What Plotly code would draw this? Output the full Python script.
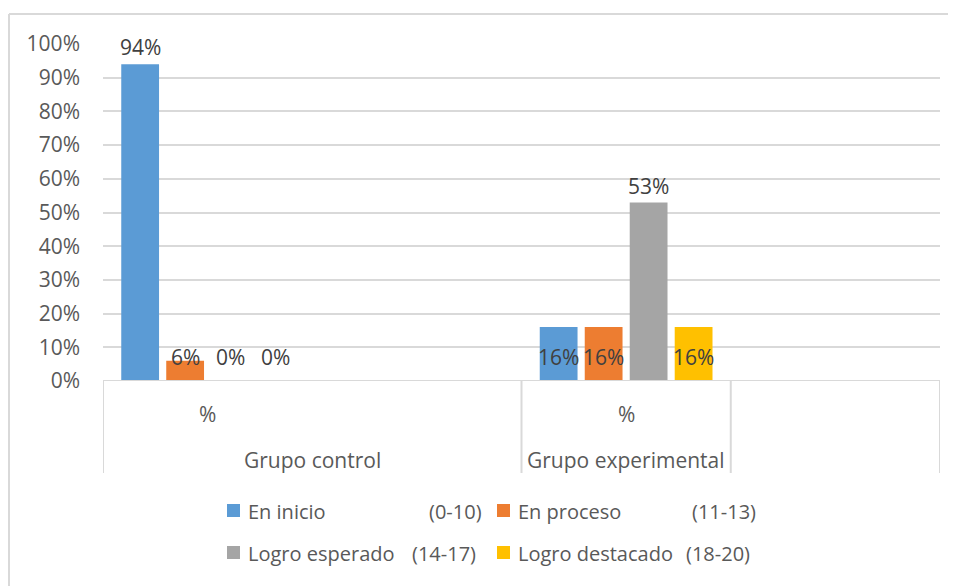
import plotly.graph_objects as go

# ---- data ----
inner_labels = ["%", "", "%", ""]
outer_groups = ["Grupo control", "Grupo experimental"]
outer_spans = [(0, 1), (2, 2)]          # category index range per outer group
level_names = ["En inicio", "En proceso", "Logro esperado", "Logro destacado"]
level_ranges = ["(0-10)", "(11-13)", "(14-17)", "(18-20)"]
en_inicio = [94, None, 16, None]
en_proceso = [6, None, 16, None]
logro_esperado = [0, None, 53, None]
logro_destacado = [0, None, 16, None]
series = [en_inicio, en_proceso, logro_esperado, logro_destacado]
y_ticks = list(range(0, 101, 10))
y_tick_text = [f"{v}%" for v in y_ticks]

# ---- style ----
colors = ["#5b9bd5", "#ed7d31", "#a5a5a5", "#ffc000"]
FONT = "Open Sans"
FS = 21
LEG_FS = 20
AXIS_C = "#595959"
LABEL_C = "#404040"
GRID_C = "#d9d9d9"
OFF = 8                      # page body margin
W, H = 956 - OFF, 586 - OFF
PX_L, PX_R, PX_T, PX_B = 103, 940, 44, 381   # plot area in screen pixels
L, T = PX_L - OFF, PX_T - OFF
R, B = W - (PX_R - OFF), H - (PX_B - OFF)
PW, PH = PX_R - PX_L, PX_B - PX_T
BARGAP, GROUPGAP = 0.14, 0.16
n_cat = len(inner_labels)
x_pos = list(range(n_cat))


def px_x(p):
    return (p - PX_L) / PW


def px_y(p):
    return (PX_B - p) / PH


fig = go.Figure()
for name, rng, vals, col in zip(level_names, level_ranges, series, colors):
    fig.add_trace(go.Bar(x=x_pos, y=vals, name=f"{name} {rng}",
                         marker=dict(color=col, line=dict(width=0)),
                         showlegend=False))

annotations = []
shapes = []
slot = (1 - BARGAP) / len(series)
for i, vals in enumerate(series):
    off = (i - (len(series) - 1) / 2) * slot
    for xi, v in zip(x_pos, vals):
        if v is None:
            continue
        ly = v + 5 if v > 20 else 7
        annotations.append(dict(x=xi + off, y=ly, xref="x", yref="y", text=f"{v}%",
                                xanchor="center", yanchor="middle", showarrow=False,
                                font=dict(family=FONT, size=FS, color=LABEL_C)))

# category axis: baseline + separators
shapes.append(dict(type="line", xref="x", yref="y", x0=-0.5, x1=n_cat - 0.5, y0=0, y1=0,
                   line=dict(color=GRID_C, width=2)))
bottom = px_y(473)
seps = [-0.5] + [e + 0.5 for (_, e) in outer_spans] + [n_cat - 0.5]
for s in sorted(set(seps)):
    shapes.append(dict(type="line", xref="x", yref="paper", x0=s, x1=s, y0=0, y1=bottom,
                       line=dict(color=GRID_C, width=2)))
for xi, lab in zip(x_pos, inner_labels):
    if lab:
        annotations.append(dict(x=xi, y=px_y(414), xref="x", yref="paper", text=lab,
                                xanchor="center", yanchor="middle", showarrow=False,
                                font=dict(family=FONT, size=FS, color=AXIS_C)))
for g, (a, b) in zip(outer_groups, outer_spans):
    annotations.append(dict(x=(a + b) / 2, y=px_y(460), xref="x", yref="paper", text=g,
                            xanchor="center", yanchor="middle", showarrow=False,
                            font=dict(family=FONT, size=FS, color=AXIS_C)))

# chart border (only top and left edges are visible in the crop)
shapes.append(dict(type="line", xref="paper", yref="paper", x0=px_x(9), x1=px_x(956),
                   y0=px_y(14), y1=px_y(14), line=dict(color=GRID_C, width=2), layer="below"))
shapes.append(dict(type="line", xref="paper", yref="paper", x0=px_x(9), x1=px_x(9),
                   y0=px_y(14), y1=px_y(586), line=dict(color=GRID_C, width=2), layer="below"))

# manual legend (2 x 2)
col_x = [227, 497]
col_end = [484, 758]
row_y = [511, 553]
for k, (name, rng, col) in enumerate(zip(level_names, level_ranges, colors)):
    r, c = divmod(k, 2)
    cx, cy = col_x[c], row_y[r]
    shapes.append(dict(type="rect", xref="paper", yref="paper",
                       x0=px_x(cx), x1=px_x(cx + 13), y0=px_y(cy + 6), y1=px_y(cy - 7),
                       fillcolor=col, line=dict(width=0)))
    annotations.append(dict(x=px_x(cx + 19), y=px_y(cy), xref="paper", yref="paper", text=name,
                            xanchor="left", yanchor="middle", showarrow=False,
                            font=dict(family=FONT, size=LEG_FS, color=AXIS_C)))
    annotations.append(dict(x=px_x(col_end[c] - 6 * r), y=px_y(cy), xref="paper", yref="paper",
                            text=rng, xanchor="right", yanchor="middle", showarrow=False,
                            font=dict(family=FONT, size=LEG_FS, color=AXIS_C)))

fig.update_layout(
    width=W, height=H,
    margin=dict(l=L, r=R, t=T, b=B),
    paper_bgcolor="white", plot_bgcolor="white",
    barmode="group", bargap=BARGAP, bargroupgap=GROUPGAP,
    font=dict(family=FONT, size=FS, color=AXIS_C),
    xaxis=dict(range=[-0.5, n_cat - 0.5], showticklabels=False, showgrid=False,
               zeroline=False, showline=False, fixedrange=True),
    yaxis=dict(range=[0, 100], tickmode="array", tickvals=y_ticks, ticktext=y_tick_text,
               showgrid=True, gridcolor=GRID_C, gridwidth=2, zeroline=False, showline=False,
               ticks="", ticklabelstandoff=22,
               tickfont=dict(family=FONT, size=FS, color=AXIS_C)),
    annotations=annotations, shapes=shapes,
)

fig.write_html("out.html", config={"displayModeBar": False},
               post_script="document.documentElement.style.overflow='hidden';"
                           "document.body.style.overflow='hidden';")
